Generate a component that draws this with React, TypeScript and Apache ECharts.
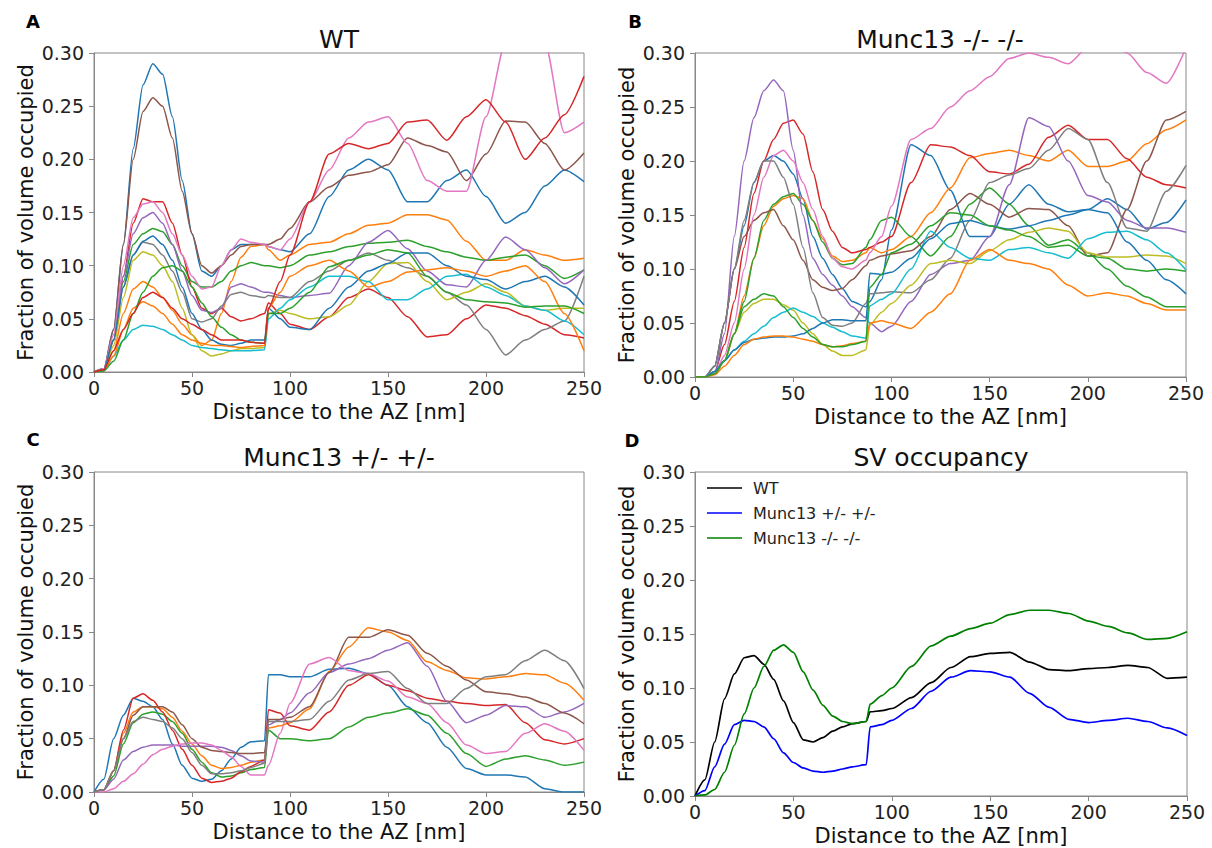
import React, { useEffect, useRef } from "react";
import * as echarts from "echarts";

// ---- shared x positions (nm) ----
const distances = [0,5,10,15,20,25,30,35,40,45,50,55,60,65,70,75,80,87,89,95,100,110,120,130,140,150,160,170,180,190,200,210,220,230,240,250];

// ---- tick labels ----
const xTicks = [0, 50, 100, 150, 200, 250];
const yTicks = ["0.00","0.05","0.10","0.15","0.20","0.25","0.30"];

// ---- Panel A: WT ----
const wtBlue1 = [0,0.003,0.04,0.12,0.21, 0.27,0.29,0.28,0.24,0.18, 0.13,0.095,0.09,0.1,0.115, 0.12,0.12, 0.12,0.118,0.115,0.113, 0.13,0.165,0.19,0.2,0.19, 0.16,0.16,0.18,0.19,0.165, 0.14,0.15,0.175,0.19,0.179];
const wtOrange1 = [0,0.002,0.02,0.055,0.078, 0.085,0.08,0.07,0.058,0.045, 0.035,0.025,0.03,0.055,0.085, 0.108,0.118, 0.12,0.115,0.105,0.11, 0.12,0.122,0.13,0.138,0.14, 0.148,0.148,0.143,0.123,0.105, 0.105,0.115,0.11,0.105,0.107];
const wtGreen1 = [0,0.002,0.03,0.085,0.12, 0.13,0.135,0.132,0.12,0.1, 0.085,0.08,0.08,0.085,0.095, 0.1,0.103, 0.1,0.1,0.098,0.1, 0.11,0.113,0.118,0.121,0.122, 0.124,0.118,0.113,0.108,0.105, 0.108,0.11,0.1,0.088,0.096];
const wtRed1 = [0,0.002,0.03,0.09,0.14, 0.163,0.16,0.16,0.14,0.11, 0.08,0.06,0.055,0.06,0.052, 0.048,0.05, 0.055,0.065,0.055,0.045, 0.04,0.052,0.07,0.078,0.07, 0.052,0.033,0.035,0.05,0.063, 0.06,0.053,0.045,0.035,0.032];
const wtPurple = [0,0.002,0.03,0.09,0.13, 0.145,0.15,0.14,0.12,0.095, 0.072,0.058,0.056,0.06,0.08, 0.083,0.08, 0.075,0.075,0.072,0.07, 0.072,0.074,0.1,0.122,0.133, 0.116,0.095,0.082,0.08,0.105, 0.127,0.115,0.098,0.083,0.096];
const wtBrown = [0,0.003,0.04,0.12,0.2, 0.245,0.258,0.25,0.22,0.17, 0.13,0.1,0.093,0.1,0.11, 0.118,0.12, 0.12,0.12,0.125,0.135, 0.16,0.174,0.185,0.188,0.195, 0.22,0.213,0.207,0.18,0.205, 0.236,0.235,0.215,0.19,0.206];
const wtPink = [0,0.003,0.035,0.1,0.145, 0.158,0.16,0.15,0.13,0.11, 0.09,0.078,0.08,0.1,0.115, 0.125,0.122, 0.12,0.118,0.115,0.125, 0.16,0.19,0.22,0.235,0.24, 0.215,0.18,0.17,0.17,0.24, 0.31,0.32,0.31,0.225,0.235];
const wtGray = [0,0.002,0.03,0.08,0.11, 0.122,0.12,0.11,0.095,0.075, 0.05,0.047,0.05,0.062,0.073, 0.075,0.072, 0.07,0.072,0.07,0.07, 0.085,0.095,0.105,0.112,0.105, 0.098,0.09,0.075,0.063,0.04, 0.016,0.03,0.04,0.048,0.09];
const wtOlive = [0,0.002,0.025,0.07,0.105, 0.113,0.11,0.1,0.085,0.06, 0.035,0.02,0.015,0.017,0.02, 0.022,0.022, 0.023,0.055,0.058,0.055, 0.05,0.052,0.063,0.085,0.102, 0.103,0.085,0.068,0.075,0.083, 0.075,0.062,0.058,0.06,0.06];
const wtCyan = [0,0.001,0.015,0.03,0.04, 0.044,0.043,0.04,0.035,0.03, 0.025,0.023,0.022,0.021,0.02, 0.02,0.02, 0.021,0.05,0.06,0.068, 0.08,0.09,0.09,0.085,0.068, 0.068,0.078,0.09,0.092,0.08, 0.072,0.062,0.058,0.048,0.035];
const wtBlue2 = [0,0.002,0.03,0.08,0.11, 0.123,0.128,0.12,0.105,0.08, 0.055,0.04,0.03,0.026,0.025, 0.027,0.03, 0.03,0.06,0.05,0.042, 0.04,0.06,0.08,0.095,0.102, 0.112,0.112,0.1,0.09,0.087, 0.078,0.085,0.09,0.08,0.063];
const wtOrange2 = [0,0.001,0.015,0.04,0.06, 0.066,0.062,0.055,0.045,0.035, 0.03,0.027,0.025,0.025,0.024, 0.023,0.024, 0.025,0.06,0.075,0.09, 0.1,0.105,0.095,0.08,0.085, 0.094,0.096,0.098,0.095,0.09, 0.095,0.1,0.085,0.055,0.02];
const wtGreen2 = [0,0.001,0.01,0.03,0.055, 0.075,0.09,0.098,0.1,0.095, 0.08,0.065,0.052,0.042,0.035, 0.03,0.028, 0.027,0.055,0.055,0.06, 0.075,0.099,0.105,0.11,0.115, 0.112,0.09,0.075,0.068,0.066, 0.065,0.061,0.062,0.062,0.055];
const wtRed2 = [0,0.002,0.02,0.04,0.055, 0.07,0.075,0.07,0.06,0.05, 0.045,0.04,0.035,0.03,0.03, 0.03,0.028, 0.027,0.06,0.085,0.11, 0.16,0.205,0.215,0.21,0.215, 0.235,0.237,0.218,0.24,0.256, 0.235,0.2,0.22,0.242,0.278];

// ---- Panel B: Munc13 -/- -/- ----
const koBlue1 = [0,0,0.01,0.05,0.1, 0.14,0.18,0.2,0.205,0.2, 0.188,0.165,0.13,0.11,0.095, 0.082,0.07, 0.065,0.07,0.09,0.136, 0.215,0.205,0.173,0.13,0.13, 0.16,0.178,0.16,0.153,0.155, 0.165,0.155,0.137,0.143,0.164];
const koOrange1 = [0,0,0.003,0.015,0.04, 0.075,0.11,0.14,0.158,0.165, 0.168,0.165,0.145,0.128,0.112, 0.107,0.108, 0.115,0.12,0.115,0.118, 0.13,0.152,0.175,0.203,0.207, 0.21,0.205,0.2,0.21,0.195, 0.195,0.2,0.216,0.229,0.238];
const koGreen1 = [0,0,0.003,0.015,0.04, 0.07,0.11,0.145,0.16,0.167, 0.17,0.16,0.145,0.125,0.11, 0.104,0.105, 0.12,0.127,0.145,0.148, 0.13,0.112,0.13,0.16,0.175, 0.16,0.14,0.122,0.127,0.115, 0.1,0.084,0.074,0.065,0.065];
const koRed = [0,0,0.005,0.03,0.07, 0.12,0.17,0.2,0.22,0.235, 0.238,0.225,0.19,0.155,0.135, 0.12,0.115, 0.118,0.12,0.125,0.13, 0.18,0.215,0.213,0.205,0.19, 0.188,0.197,0.222,0.233,0.22, 0.22,0.202,0.185,0.178,0.175];
const koPurple = [0,0,0.003,0.04,0.13, 0.2,0.24,0.265,0.275,0.265, 0.21,0.15,0.11,0.095,0.085, 0.075,0.065, 0.055,0.05,0.042,0.047, 0.07,0.095,0.105,0.108,0.13, 0.178,0.24,0.232,0.2,0.168, 0.162,0.145,0.138,0.138,0.134];
const koBrown = [0,0,0.01,0.05,0.1, 0.13,0.145,0.152,0.155,0.14, 0.127,0.108,0.09,0.083,0.08, 0.082,0.09, 0.103,0.108,0.112,0.114, 0.117,0.13,0.155,0.17,0.16, 0.148,0.156,0.155,0.14,0.112, 0.115,0.155,0.2,0.238,0.246];
const koPink = [0,0,0.003,0.02,0.05, 0.1,0.15,0.185,0.205,0.21, 0.2,0.18,0.155,0.13,0.11, 0.102,0.1, 0.108,0.115,0.13,0.158, 0.22,0.23,0.25,0.265,0.278, 0.295,0.3,0.296,0.29,0.305, 0.31,0.3,0.282,0.272,0.305];
const koGray = [0,0,0.01,0.05,0.1, 0.145,0.18,0.2,0.2,0.185, 0.16,0.12,0.078,0.055,0.048, 0.047,0.05, 0.068,0.077,0.078,0.079, 0.078,0.09,0.11,0.145,0.18, 0.187,0.193,0.21,0.23,0.22, 0.18,0.138,0.135,0.172,0.196];
const koOlive = [0,0,0.003,0.015,0.04, 0.06,0.068,0.072,0.072,0.067, 0.062,0.05,0.04,0.03,0.024, 0.02,0.02, 0.025,0.048,0.06,0.068, 0.085,0.105,0.108,0.105,0.117, 0.127,0.134,0.138,0.135,0.115, 0.111,0.111,0.113,0.112,0.105];
const koCyan = [0,0,0.005,0.015,0.025, 0.033,0.04,0.047,0.055,0.06, 0.064,0.06,0.056,0.05,0.046, 0.042,0.038, 0.036,0.066,0.072,0.077, 0.1,0.135,0.12,0.11,0.108, 0.118,0.12,0.115,0.11,0.128, 0.134,0.135,0.127,0.115,0.099];
const koBlue2 = [0,0,0.005,0.015,0.025, 0.032,0.035,0.036,0.037,0.037, 0.038,0.04,0.045,0.05,0.053, 0.053,0.052, 0.052,0.096,0.095,0.097, 0.11,0.128,0.142,0.145,0.14, 0.137,0.14,0.145,0.15,0.155, 0.152,0.125,0.108,0.09,0.077];
const koOrange2 = [0,0,0.002,0.01,0.02, 0.03,0.035,0.037,0.038,0.038, 0.037,0.035,0.033,0.03,0.028, 0.029,0.031, 0.033,0.05,0.052,0.05, 0.045,0.06,0.077,0.108,0.118, 0.108,0.105,0.1,0.085,0.075, 0.078,0.075,0.068,0.062,0.062];
const koGreen2 = [0,0,0.003,0.015,0.04, 0.065,0.072,0.077,0.075,0.065, 0.055,0.045,0.037,0.03,0.028, 0.028,0.03, 0.033,0.083,0.095,0.115, 0.123,0.14,0.152,0.15,0.14, 0.136,0.13,0.12,0.122,0.112, 0.11,0.1,0.098,0.1,0.098];

// ---- Panel C: Munc13 +/- +/- ----
const hetBlue = [0,0.012,0.05,0.072,0.088, 0.085,0.08,0.068,0.045,0.025, 0.013,0.01,0.012,0.02,0.031, 0.042,0.047, 0.048,0.11,0.11,0.108, 0.108,0.115,0.116,0.111,0.1, 0.08,0.065,0.042,0.022,0.016, 0.016,0.014,0.003,0,0];
const hetOrange = [0,0.002,0.02,0.055,0.075, 0.08,0.08,0.078,0.07,0.057, 0.045,0.034,0.025,0.022,0.023, 0.025,0.028, 0.03,0.06,0.062,0.065, 0.078,0.113,0.136,0.154,0.15, 0.142,0.122,0.114,0.107,0.106, 0.108,0.111,0.11,0.102,0.086];
const hetGreen = [0,0.002,0.015,0.045,0.065, 0.073,0.075,0.073,0.066,0.055, 0.04,0.028,0.018,0.014,0.015, 0.018,0.021, 0.023,0.058,0.05,0.05, 0.048,0.05,0.061,0.07,0.074, 0.078,0.072,0.055,0.036,0.024, 0.031,0.034,0.03,0.025,0.028];
const hetRed = [0,0.002,0.02,0.058,0.088, 0.092,0.086,0.075,0.058,0.04, 0.025,0.013,0.009,0.01,0.013, 0.019,0.024, 0.03,0.077,0.074,0.062, 0.058,0.075,0.1,0.11,0.1, 0.095,0.088,0.085,0.083,0.081, 0.082,0.065,0.049,0.045,0.05];
const hetPurple = [0,0.002,0.012,0.03,0.038, 0.042,0.044,0.044,0.044,0.043, 0.043,0.043,0.043,0.042,0.039, 0.034,0.029, 0.028,0.063,0.068,0.074, 0.093,0.112,0.12,0.125,0.133, 0.14,0.118,0.085,0.065,0.072, 0.081,0.08,0.07,0.075,0.083];
const hetBrown = [0,0.002,0.02,0.05,0.072, 0.08,0.08,0.08,0.075,0.063, 0.05,0.042,0.039,0.038,0.037, 0.036,0.036, 0.037,0.068,0.068,0.07, 0.08,0.112,0.145,0.145,0.152, 0.147,0.13,0.118,0.105,0.094, 0.092,0.089,0.083,0.074,0.064];
const hetPink = [0,0,0.003,0.01,0.017, 0.026,0.035,0.04,0.043,0.045, 0.046,0.046,0.044,0.039,0.033, 0.024,0.016, 0.016,0.025,0.055,0.083, 0.12,0.126,0.114,0.111,0.104, 0.089,0.083,0.065,0.044,0.036, 0.038,0.055,0.064,0.057,0.039];
const hetGray = [0,0.002,0.02,0.05,0.066, 0.07,0.068,0.066,0.06,0.05, 0.037,0.025,0.017,0.017,0.018, 0.02,0.023, 0.027,0.066,0.066,0.066, 0.068,0.085,0.105,0.111,0.113, 0.097,0.083,0.083,0.097,0.108, 0.11,0.123,0.133,0.123,0.097];

// ---- Panel D: SV occupancy (means) ----
const svWT = [0,0.015,0.05,0.09,0.113, 0.128,0.13,0.122,0.108,0.088, 0.068,0.052,0.05,0.054,0.06, 0.064,0.067, 0.069,0.078,0.079,0.081, 0.091,0.105,0.119,0.129,0.132, 0.133,0.124,0.117,0.116,0.118, 0.119,0.121,0.119,0.109,0.11];
const svHet = [0,0.005,0.027,0.048,0.066, 0.07,0.069,0.064,0.053,0.04, 0.031,0.026,0.023,0.022,0.023, 0.025,0.027, 0.029,0.064,0.066,0.07, 0.081,0.097,0.11,0.116,0.115, 0.11,0.095,0.082,0.071,0.068, 0.07,0.072,0.069,0.063,0.056];
const svKO = [0,0.001,0.006,0.022,0.047, 0.076,0.1,0.12,0.135,0.14, 0.133,0.115,0.098,0.084,0.074, 0.069,0.067, 0.069,0.085,0.093,0.1, 0.12,0.139,0.148,0.155,0.16, 0.168,0.172,0.172,0.169,0.162, 0.157,0.151,0.145,0.146,0.152];

const svNames = ["WT", "Munc13 +/- +/-", "Munc13 -/- -/-"];
const svColors = ["#000000", "#0000ff", "#008000"];

const panelTitles = ["WT", "Munc13 -/- -/-", "Munc13 +/- +/-", "SV occupancy"];
const panelLetters = ["A", "B", "C", "D"];

const tab10 = ["#1f77b4","#ff7f0e","#2ca02c","#d62728","#9467bd","#8c564b","#e377c2","#7f7f7f","#bcbd22","#17becf"];

const panelA = [wtBlue1, wtOrange1, wtGreen1, wtRed1, wtPurple, wtBrown, wtPink, wtGray, wtOlive, wtCyan, wtBlue2, wtOrange2, wtGreen2, wtRed2];
const panelB = [koBlue1, koOrange1, koGreen1, koRed, koPurple, koBrown, koPink, koGray, koOlive, koCyan, koBlue2, koOrange2, koGreen2];
const panelC = [hetBlue, hetOrange, hetGreen, hetRed, hetPurple, hetBrown, hetPink, hetGray];
const panelD = [svWT, svHet, svKO];

const FONT = "DejaVu Sans";

export default function App() {
  const ref = useRef<HTMLDivElement>(null);
  useEffect(() => {
    if (!ref.current) return;
    const chart = echarts.init(ref.current, undefined, { renderer: "svg" });

    const grids = [
      { left: 94, top: 53, width: 490, height: 319 },
      { left: 695, top: 53, width: 491, height: 324 },
      { left: 94, top: 472, width: 490, height: 320 },
      { left: 695, top: 472, width: 492, height: 324 },
    ];

    const toPairs = (arr: number[]) => distances.map((x, j) => [x, arr[j]]);

    const series: any[] = [];
    const addPanel = (lines: number[][], gi: number, colors: string[], names?: string[], width = 1.5) => {
      lines.forEach((l, i) => {
        series.push({
          type: "line",
          name: names ? names[i] : undefined,
          xAxisIndex: gi,
          yAxisIndex: gi,
          data: toPairs(l),
          showSymbol: false,
          symbol: "none",
          smooth: 0.25,
          smoothMonotone: "x",
          silent: true,
          clip: true,
          lineStyle: { width, color: colors[i % colors.length] },
          itemStyle: { color: colors[i % colors.length] },
        });
      });
    };
    addPanel(panelA, 0, tab10);
    addPanel(panelB, 1, tab10);
    addPanel(panelC, 2, tab10);
    addPanel(panelD, 3, svColors, svNames, 1.7);

    const axisColor = "#888";
    const xAxes = grids.map((_, i) => ({
      gridIndex: i,
      type: "value",
      min: xTicks[0],
      max: xTicks[xTicks.length - 1],
      interval: 50,
      name: "Distance to the AZ [nm]",
      nameLocation: "middle",
      nameGap: 29,
      nameTextStyle: { fontSize: 21, color: "#111", fontFamily: FONT },
      axisLine: { show: true, lineStyle: { color: axisColor } },
      axisTick: { show: true, length: 5, lineStyle: { color: axisColor } },
      axisLabel: { fontSize: 19, color: "#222", margin: 6, fontFamily: FONT },
      splitLine: { show: false },
    }));
    const yAxes = grids.map((_, i) => ({
      gridIndex: i,
      type: "value",
      min: 0,
      max: 0.3,
      interval: 0.05,
      name: "Fraction of volume occupied",
      nameLocation: "middle",
      nameGap: 58,
      nameTextStyle: { fontSize: 21, color: "#111", fontFamily: FONT },
      axisLine: { show: true, lineStyle: { color: axisColor } },
      axisTick: { show: true, length: 5, lineStyle: { color: axisColor } },
      axisLabel: {
        fontSize: 19, color: "#222", margin: 10, fontFamily: FONT,
        formatter: (v: number) => yTicks[Math.round(v / 0.05)] ?? v.toFixed(2),
      },
      splitLine: { show: false },
    }));

    const titlePos = [
      [339, 39], [940, 39], [339, 457], [941, 457],
    ];
    const letterPos = [
      [33, 21], [635, 21], [33, 439], [632, 440],
    ];
    const graphics: any[] = [];
    panelTitles.forEach((t, i) => {
      graphics.push({
        type: "text", x: titlePos[i][0], y: titlePos[i][1], silent: true,
        style: { text: t, fontSize: 25, fontFamily: FONT, fill: "#111", textAlign: "center", textVerticalAlign: "middle" },
      });
    });
    panelLetters.forEach((t, i) => {
      graphics.push({
        type: "text", x: letterPos[i][0], y: letterPos[i][1], silent: true,
        style: { text: t, fontSize: 18, fontWeight: "bold", fontFamily: FONT, fill: "#000", textAlign: "center", textVerticalAlign: "middle" },
      });
    });
    // legend of panel D
    svNames.forEach((n, i) => {
      const y = 488 + i * 25;
      graphics.push({
        type: "line", silent: true,
        shape: { x1: 707, y1: y, x2: 742, y2: y },
        style: { stroke: svColors[i], lineWidth: 1.7 },
      });
      graphics.push({
        type: "text", x: 753, y: y, silent: true,
        style: { text: n, fontSize: 16, fontFamily: FONT, fill: "#222", textAlign: "left", textVerticalAlign: "middle" },
      });
    });

    chart.setOption({
      animation: false,
      backgroundColor: "#fff",
      grid: grids.map((g) => ({ ...g, show: true, borderColor: axisColor, borderWidth: 1, backgroundColor: "transparent", containLabel: false })),
      xAxis: xAxes,
      yAxis: yAxes,
      series,
      graphic: graphics,
    });
    return () => chart.dispose();
  }, []);

  return (
    <div
      ref={ref}
      style={{ position: "fixed", left: 0, top: 0, width: 1212, height: 848, background: "#fff" }}
    />
  );
}
